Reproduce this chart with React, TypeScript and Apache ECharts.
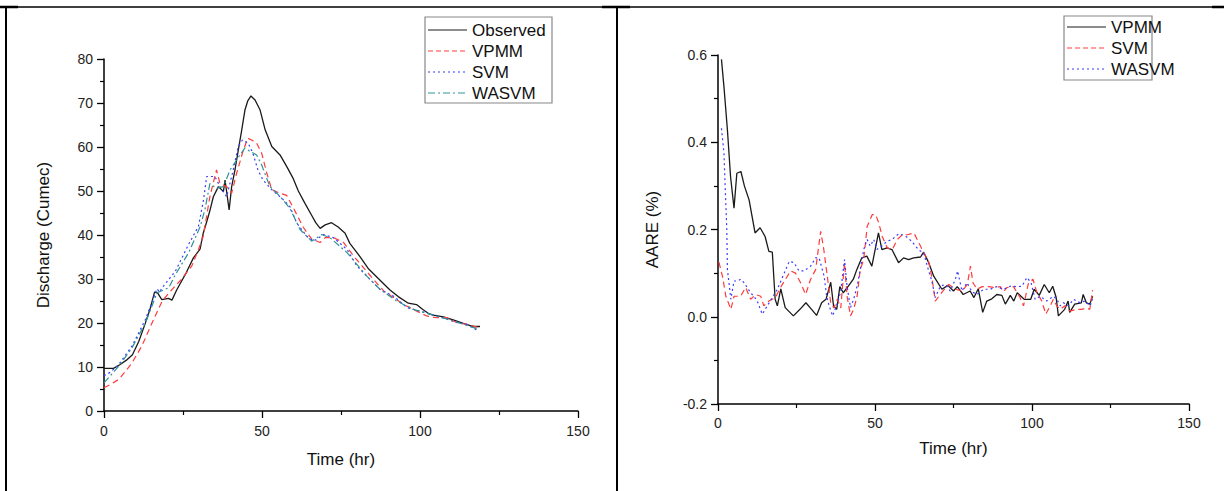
import React, { useEffect, useRef } from "react";
import * as echarts from "echarts";

// ---------- Left chart: discharge ----------
const obsT = [0, 3, 5, 7, 9, 11, 13, 14.5, 16, 17, 18.3, 20.4, 21.5, 23, 24, 26, 28.3, 30.4, 31.4, 32.5, 33.5, 34.6, 36.2, 37.8, 38.3, 39.6, 40.4, 41.5, 42.5, 43.5, 44.6, 45.5, 46.5, 47.8, 49.4, 51, 53.1, 55.7, 57.8, 59.9, 61.5, 63.6, 65.7, 67, 68.4, 70, 72, 74.1, 76.3, 77.8, 81, 83.6, 86.8, 90.5, 93.1, 96.3, 98.9, 101, 102.6, 104.2, 107.4, 110.5, 113.7, 116.9, 119];
const obsV = [9.7, 9.7, 10.5, 11.5, 12.8, 15.8, 19.8, 23, 27, 26.8, 25.3, 25.6, 25.2, 27.5, 28.8, 31.4, 34.8, 36.8, 40.4, 43, 45.5, 48.7, 51, 49.9, 52.5, 45.7, 51, 55, 59.3, 63.5, 68.4, 70.5, 71.6, 70.7, 68.4, 63.9, 60.1, 58.2, 55.6, 52.8, 50, 47.2, 44.5, 42.8, 41.5, 42.3, 42.8, 41.8, 40.4, 38.1, 35.1, 32.4, 30.1, 27.5, 26, 24.5, 24.2, 23, 22.2, 21.8, 21.4, 20.7, 19.9, 19.2, 19.2];

const vpmmT = [0, 2, 4.7, 7, 8.9, 12, 15.2, 18.4, 21.5, 24.6, 27.8, 29.9, 31.4, 33.5, 35.6, 36.7, 38.8, 40.4, 42, 44.1, 45.5, 46.7, 48.3, 49.9, 51.5, 53.1, 55.7, 57.8, 59.9, 63.1, 65.7, 68.4, 70, 72.6, 75.8, 79, 82.1, 85.3, 88.5, 91.6, 94.8, 99, 102.1, 105.3, 108.5, 111.6, 114.8, 118.5];
const vpmmV = [5.3, 6, 7.2, 9.2, 11, 14.8, 20, 25, 27.6, 30, 33, 36.7, 39.7, 48.7, 54.8, 51.7, 51, 49.5, 54.1, 59.3, 62, 61.6, 60.9, 58.6, 54.1, 50.3, 49.5, 49, 46.2, 41.7, 39.1, 38.3, 39.4, 39.4, 38.3, 35.2, 32.6, 29.9, 27.3, 25.8, 24.2, 22.7, 21.6, 21.2, 21.2, 20.1, 19.7, 19];

const svmT = [0, 2, 4.7, 8.9, 13.1, 16.8, 17.5, 18.4, 22.6, 26.8, 29.9, 31.5, 32.5, 35.1, 36.7, 38.8, 40.9, 42.5, 43.8, 45.6, 47.1, 48.7, 50.3, 53.1, 56.2, 58.8, 61, 64.2, 66.3, 69.5, 72.6, 76.9, 80, 84.2, 87.4, 91.6, 95.9, 100, 105.3, 110.5, 114.8, 118.5];
const svmV = [8, 8.8, 10.6, 14.8, 20.8, 27.8, 27, 28, 31.8, 37.9, 42, 48, 53.3, 53.3, 51, 48.7, 54.8, 60.1, 61.6, 60.9, 58.6, 54.8, 52.5, 50.3, 48.4, 46.5, 42.7, 39.7, 38.6, 40.1, 39.4, 36.7, 33, 29.9, 27.6, 26.1, 23.5, 22.7, 21.6, 20.4, 19.7, 18.2];

const wasvmT = [0, 2, 4.7, 8.9, 13.1, 16.8, 20.5, 22.6, 26.8, 30.5, 32, 33.5, 35.6, 37.8, 39.9, 42, 44.6, 46.2, 48.3, 49.9, 52.5, 55.7, 58.8, 62.1, 65.7, 68.9, 71.5, 76.9, 83.1, 87.4, 92.6, 97.9, 103.1, 108.5, 113.7, 118.5];
const wasvmV = [6.4, 8, 10.2, 14.4, 20, 26.9, 28, 31, 36, 42, 46, 51.7, 50.6, 51, 54.8, 57.1, 59.8, 59, 58.2, 55.9, 51, 48.8, 46.1, 41.2, 38.6, 40.1, 39.4, 36, 30.7, 27.6, 25, 23.1, 22, 20.9, 19.7, 18.6];

// ---------- Right chart: AARE ----------
const rVpmmT = [1.1, 1.9, 3.0, 4.0, 5.1, 6.0, 7.3, 8.4, 9.9, 11.8, 13.4, 15, 16.2, 17.3, 18.2, 18.9, 20, 21.4, 24, 26.1, 28, 29.8, 31.4, 33, 34.4, 35.9, 36.8, 37.8, 38.8, 39.9, 41.5, 43.1, 44.2, 45.8, 47.4, 49, 51.1, 52.2, 53.8, 55.4, 57.5, 59.1, 60.7, 62.3, 64.5, 65.5, 67.1, 68.7, 71.3, 73.2, 75, 76.2, 78.1, 80.3, 81.5, 82.9, 84.3, 85.6, 87.2, 88.8, 90.4, 91.5, 93.1, 94.2, 95.3, 97.5, 99.6, 100.7, 102.3, 103.9, 105.5, 106.6, 107.7, 108.4, 110.4, 111.5, 112, 113.6, 115.7, 116.3, 117.3, 118.4, 119.3];
const rVpmmV = [0.59, 0.527, 0.428, 0.321, 0.249, 0.329, 0.333, 0.3, 0.268, 0.192, 0.204, 0.184, 0.15, 0.148, 0.04, 0.025, 0.064, 0.021, 0.002, 0.017, 0.032, 0.017, 0.003, 0.032, 0.04, 0.079, 0.025, 0.017, 0.069, 0.055, 0.07, 0.086, 0.108, 0.135, 0.139, 0.116, 0.192, 0.154, 0.158, 0.154, 0.124, 0.135, 0.131, 0.135, 0.137, 0.148, 0.124, 0.093, 0.063, 0.072, 0.059, 0.069, 0.051, 0.059, 0.044, 0.064, 0.01, 0.036, 0.041, 0.051, 0.049, 0.029, 0.049, 0.036, 0.055, 0.04, 0.04, 0.063, 0.049, 0.074, 0.055, 0.07, 0.044, 0.002, 0.017, 0.036, 0.01, 0.029, 0.032, 0.051, 0.032, 0.029, 0.047];

const rSvmT = [0.3, 1.5, 2.5, 4.1, 5.1, 7.2, 8.8, 10.4, 12, 13.6, 14.6, 16.2, 18.3, 19.9, 21.5, 23.1, 24.7, 26.3, 27.9, 29.5, 31.1, 32.7, 33.7, 34.8, 35.9, 36.9, 38, 39.1, 40.3, 41.1, 42.2, 43.2, 44.3, 45.3, 46.4, 47.5, 49.1, 50.2, 51.2, 52.3, 53.9, 55.5, 57.1, 58.7, 60.3, 62.4, 64, 65.6, 67.2, 68.2, 69.2, 71.4, 73.5, 75.6, 77.8, 79.4, 80.4, 81.2, 82.5, 84.1, 86.2, 88.3, 89.9, 90.9, 92, 94.1, 96.2, 97.3, 98.9, 100.3, 101.5, 103.1, 104.4, 105.8, 106.8, 107.9, 109, 110.5, 112.1, 114.2, 115.8, 117.4, 118.4, 119.3];
const rSvmV = [0.125, 0.09, 0.047, 0.017, 0.047, 0.047, 0.067, 0.04, 0.051, 0.047, 0.025, 0.036, 0.044, 0.067, 0.086, 0.105, 0.1, 0.078, 0.051, 0.086, 0.108, 0.196, 0.154, 0.093, 0.032, 0.02, 0.04, 0.02, 0.124, 0.047, 0.002, 0.017, 0.047, 0.108, 0.131, 0.207, 0.234, 0.234, 0.215, 0.184, 0.158, 0.154, 0.177, 0.188, 0.188, 0.192, 0.169, 0.146, 0.124, 0.086, 0.036, 0.057, 0.074, 0.063, 0.059, 0.074, 0.116, 0.078, 0.063, 0.069, 0.069, 0.067, 0.069, 0.057, 0.067, 0.069, 0.044, 0.025, 0.078, 0.086, 0.057, 0.036, 0.006, 0.025, 0.04, 0.025, 0.017, 0.025, 0.013, 0.017, 0.017, 0.02, 0.017, 0.061];

const rWasvmT = [1.1, 1.9, 2.4, 2.8, 3.0, 4.1, 5.1, 6.2, 7.2, 8.3, 9.3, 10.4, 11.4, 12.5, 14.1, 15.7, 17.3, 18.9, 20.5, 22.7, 24.2, 25.8, 27.4, 29.5, 31.1, 32.2, 33.8, 34.6, 35.4, 36.5, 38.1, 39.1, 40.3, 41.1, 42.2, 43.2, 44.3, 45.3, 46.4, 47.5, 48.5, 49.6, 50.6, 52.2, 53.8, 55.4, 57.5, 59.6, 61.7, 63.8, 65.5, 67.1, 68.1, 69.2, 70.8, 72.4, 74, 75.6, 76.3, 77.7, 79.3, 80.9, 82.5, 84.6, 86.7, 88.8, 90.9, 93.1, 95.2, 96.8, 98.4, 99.7, 101, 102.6, 104.7, 106.8, 107.9, 109, 110, 111.6, 113.2, 115.3, 116.9, 118.5, 119.3];
const rWasvmV = [0.432, 0.375, 0.276, 0.2, 0.108, 0.04, 0.082, 0.082, 0.086, 0.078, 0.067, 0.055, 0.047, 0.036, 0.006, 0.025, 0.044, 0.063, 0.09, 0.127, 0.124, 0.105, 0.105, 0.116, 0.135, 0.135, 0.093, 0.047, 0.025, 0.002, 0.032, 0.059, 0.131, 0.07, 0.021, 0.04, 0.07, 0.108, 0.154, 0.177, 0.162, 0.177, 0.154, 0.162, 0.173, 0.177, 0.19, 0.186, 0.173, 0.154, 0.146, 0.105, 0.082, 0.044, 0.07, 0.074, 0.059, 0.086, 0.105, 0.059, 0.078, 0.057, 0.051, 0.063, 0.063, 0.069, 0.063, 0.07, 0.069, 0.07, 0.09, 0.078, 0.04, 0.047, 0.036, 0.047, 0.04, 0.025, 0.032, 0.025, 0.04, 0.032, 0.036, 0.025, 0.04];

const leftLegend = ["Observed", "VPMM", "SVM", "WASVM"];
const rightLegend = ["VPMM", "SVM", "WASVM"];

const FONT = "Arial, 'Liberation Sans', sans-serif";
const BLACK = "#1a1a1a";
const RED = "#ff3b3b";
const BLUE = "#3b3bff";
const TEAL = "#2e9393";

const pairs = (t: number[], v: number[]) => t.map((x, i) => [x, v[i]]);

const axisCommon = {
  axisLine: { show: true, onZero: false, lineStyle: { color: "#000", width: 1.5 } },
  axisTick: { show: true, inside: false, length: 7, lineStyle: { color: "#000", width: 1.3 } },
  minorTick: { show: true, splitNumber: 2, length: 4, lineStyle: { color: "#000", width: 1.2 } },
  splitLine: { show: false },
  minorSplitLine: { show: false },
  nameTextStyle: { fontFamily: FONT, fontSize: 17, color: "#111" },
};

export default function App() {
  const ref = useRef<HTMLDivElement>(null);
  useEffect(() => {
    if (!ref.current) return;
    const chart = echarts.init(ref.current, undefined, { renderer: "svg" });

    const mkLine = (name: string, data: number[][], color: string, type: any, xi: number, width = 1.2) => ({
      name,
      type: "line",
      xAxisIndex: xi,
      yAxisIndex: xi,
      data,
      showSymbol: false,
      symbol: "none",
      lineStyle: { color, width, type },
      itemStyle: { color },
    });

    const legendBlock = (x: number, y: number, w: number, h: number, rows: { name: string; color: string; dash: number[] | null }[], rowY: number[]) => {
      const els: any[] = [
        { type: "rect", shape: { x, y, width: w, height: h }, style: { fill: "#fff", stroke: "#888", lineWidth: 1.2 }, z: 10 },
      ];
      rows.forEach((r, i) => {
        els.push({
          type: "line",
          shape: { x1: x + 3, y1: rowY[i], x2: x + 42, y2: rowY[i] },
          style: { stroke: r.color, lineWidth: 1.2, lineDash: r.dash || undefined },
          z: 11,
        });
        els.push({
          type: "text",
          x: x + 47,
          y: rowY[i],
          style: { text: r.name, fontFamily: FONT, fontSize: 17, fill: "#111", verticalAlign: "middle", align: "left" },
          z: 11,
        });
      });
      return els;
    };

    const borders = [
      { type: "line", shape: { x1: 5, y1: 7, x2: 1224, y2: 7 }, style: { stroke: "#000", lineWidth: 1.5 } },
      { type: "line", shape: { x1: 0, y1: 7, x2: 18, y2: 7 }, style: { stroke: "#000", lineWidth: 2.5 } },
      { type: "line", shape: { x1: 602, y1: 7, x2: 630, y2: 7 }, style: { stroke: "#000", lineWidth: 2.5 } },
      { type: "line", shape: { x1: 1212, y1: 7, x2: 1224, y2: 7 }, style: { stroke: "#000", lineWidth: 2.5 } },
      { type: "line", shape: { x1: 6, y1: 6, x2: 6, y2: 491 }, style: { stroke: "#000", lineWidth: 2 } },
      { type: "line", shape: { x1: 617, y1: 6, x2: 617, y2: 491 }, style: { stroke: "#000", lineWidth: 2 } },
    ];

    const option: any = {
      animation: false,
      backgroundColor: "#fff",
      grid: [
        { left: 104, top: 59, width: 474, height: 352 },
        { left: 718, top: 55, width: 471, height: 349 },
      ],
      xAxis: [
        {
          ...axisCommon,
          gridIndex: 0,
          type: "value",
          min: 0,
          max: 150,
          interval: 50,
          name: "Time (hr)",
          nameLocation: "middle",
          nameGap: 40,
          axisLabel: { fontFamily: FONT, fontSize: 14, color: "#222", margin: 13 },
        },
        {
          ...axisCommon,
          gridIndex: 1,
          type: "value",
          min: 0,
          max: 150,
          interval: 50,
          name: "Time (hr)",
          nameLocation: "middle",
          nameGap: 36,
          axisLabel: { fontFamily: FONT, fontSize: 14, color: "#222", margin: 12 },
        },
      ],
      yAxis: [
        {
          ...axisCommon,
          gridIndex: 0,
          type: "value",
          min: 0,
          max: 80,
          interval: 10,
          name: "Discharge (Cumec)",
          nameLocation: "middle",
          nameRotate: 90,
          nameGap: 52,
          axisLabel: { fontFamily: FONT, fontSize: 14, color: "#222", margin: 11 },
        },
        {
          ...axisCommon,
          gridIndex: 1,
          type: "value",
          min: -0.2,
          max: 0.6,
          interval: 0.2,
          name: "AARE (%)",
          nameLocation: "middle",
          nameRotate: 90,
          nameGap: 57,
          axisLabel: {
            fontFamily: FONT,
            fontSize: 14,
            color: "#222",
            margin: 11,
            formatter: (v: number) => (Math.abs(v) < 1e-9 ? "0.0" : v.toFixed(1)),
          },
        },
      ],
      series: [
        mkLine("Observed", pairs(obsT, obsV), BLACK, "solid", 0, 1.3),
        mkLine("VPMM", pairs(vpmmT, vpmmV), RED, [6, 4], 0),
        mkLine("SVM", pairs(svmT, svmV), BLUE, [2, 3], 0),
        mkLine("WASVM", pairs(wasvmT, wasvmV), TEAL, [7, 3, 2, 3], 0),
        mkLine("VPMM", pairs(rVpmmT, rVpmmV), BLACK, "solid", 1, 1.3),
        mkLine("SVM", pairs(rSvmT, rSvmV), RED, [6, 4], 1),
        mkLine("WASVM", pairs(rWasvmT, rWasvmV), BLUE, [2, 3], 1),
      ],
      graphic: [
        ...borders,
        ...legendBlock(
          425,
          17,
          127,
          86,
          [
            { name: leftLegend[0], color: BLACK, dash: null },
            { name: leftLegend[1], color: RED, dash: [5, 3] },
            { name: leftLegend[2], color: BLUE, dash: [2, 3] },
            { name: leftLegend[3], color: TEAL, dash: [7, 3, 2, 3] },
          ],
          [30, 51, 72, 93]
        ),
        ...legendBlock(
          1064,
          16,
          88,
          64,
          [
            { name: rightLegend[0], color: BLACK, dash: null },
            { name: rightLegend[1], color: RED, dash: [5, 3] },
            { name: rightLegend[2], color: BLUE, dash: [2, 3] },
          ],
          [27, 48, 69]
        ),
      ],
    };
    chart.setOption(option);
    return () => chart.dispose();
  }, []);
  return <div ref={ref} style={{ position: "absolute", left: 0, top: 0, width: 1224, height: 491 }} />;
}
